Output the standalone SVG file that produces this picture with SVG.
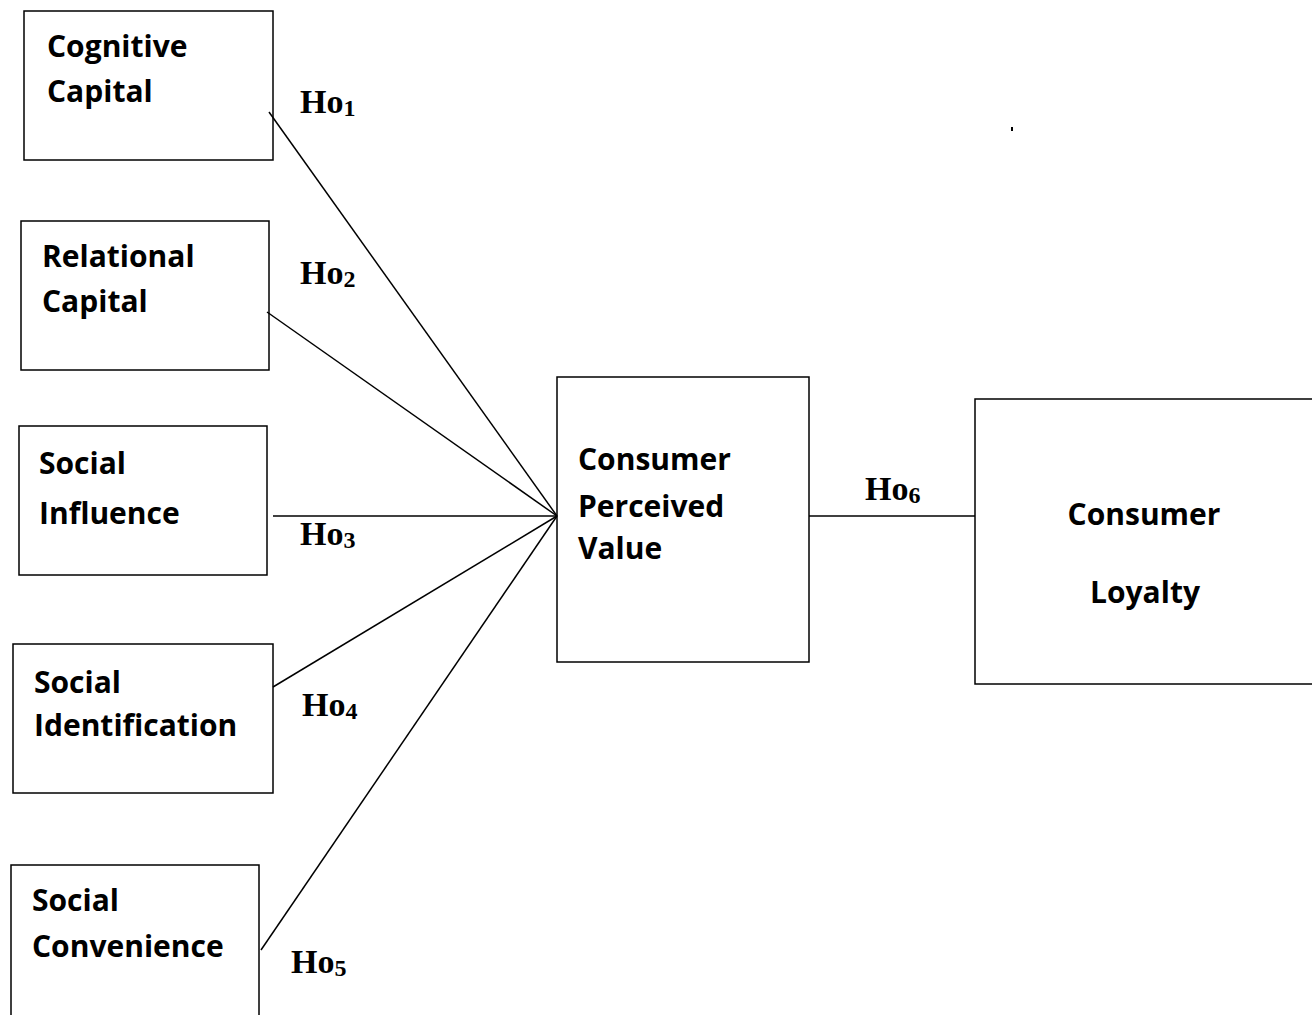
<svg xmlns="http://www.w3.org/2000/svg" width="1312" height="1015" viewBox="0 0 1312 1015">
<style>
.box{fill:#fff;stroke:#000;stroke-width:1.5}
.t{font-family:"Open Sans","Liberation Sans",sans-serif;font-weight:bold;font-size:30px;fill:#000}
.h{font-family:"Liberation Serif",serif;font-weight:bold;font-size:34px;fill:#000}
.s{font-size:24px}
.c{stroke:#000;stroke-width:1.5;fill:none}
</style>
<rect width="1312" height="1015" fill="#fff"/>
<g id="cognitive"><rect class="box" x="24" y="11" width="249" height="149"/><text class="t" x="47" y="57">Cognitive</text><text class="t" x="47" y="102">Capital</text></g>
<g id="relational"><rect class="box" x="21" y="221" width="248" height="149"/><text class="t" x="42" y="267">Relational</text><text class="t" x="42" y="312">Capital</text></g>
<g id="influence"><rect class="box" x="19" y="426" width="248" height="149"/><text class="t" x="39" y="474">Social</text><text class="t" x="39" y="524">Influence</text></g>
<g id="identification"><rect class="box" x="13" y="644" width="260" height="149"/><text class="t" x="34" y="693">Social</text><text class="t" x="34" y="736">Identification</text></g>
<g id="convenience"><rect class="box" x="11" y="865" width="248" height="160"/><text class="t" x="32" y="911">Social</text><text class="t" x="32" y="957">Convenience</text></g>
<g id="value"><rect class="box" x="557" y="377" width="252" height="285"/><text class="t" x="578" y="470">Consumer</text><text class="t" x="578" y="517">Perceived</text><text class="t" x="578" y="559">Value</text></g>
<g id="loyalty"><rect class="box" x="975" y="399" width="345" height="285"/><text class="t" x="1144" y="525" text-anchor="middle">Consumer</text><text class="t" x="1145" y="603" text-anchor="middle">Loyalty</text></g>
<g id="connectors">
<line class="c" x1="269" y1="112" x2="557" y2="516"/>
<line class="c" x1="267" y1="312" x2="557" y2="516"/>
<line class="c" x1="273" y1="516" x2="557" y2="516"/>
<line class="c" x1="273" y1="687" x2="557" y2="516"/>
<line class="c" x1="261" y1="950" x2="557" y2="516"/>
<line class="c" x1="809" y1="516" x2="975" y2="516"/>
</g>
<g id="labels">
<text class="h" x="300" y="113">Ho<tspan class="s" dy="3">1</tspan></text>
<text class="h" x="300" y="284">Ho<tspan class="s" dy="3">2</tspan></text>
<text class="h" x="300" y="545">Ho<tspan class="s" dy="3">3</tspan></text>
<text class="h" x="302" y="716">Ho<tspan class="s" dy="3">4</tspan></text>
<text class="h" x="291" y="973">Ho<tspan class="s" dy="3">5</tspan></text>
<text class="h" x="865" y="500">Ho<tspan class="s" dy="3">6</tspan></text>
</g>
<rect x="1011" y="127" width="2" height="4" fill="#000"/>
</svg>
